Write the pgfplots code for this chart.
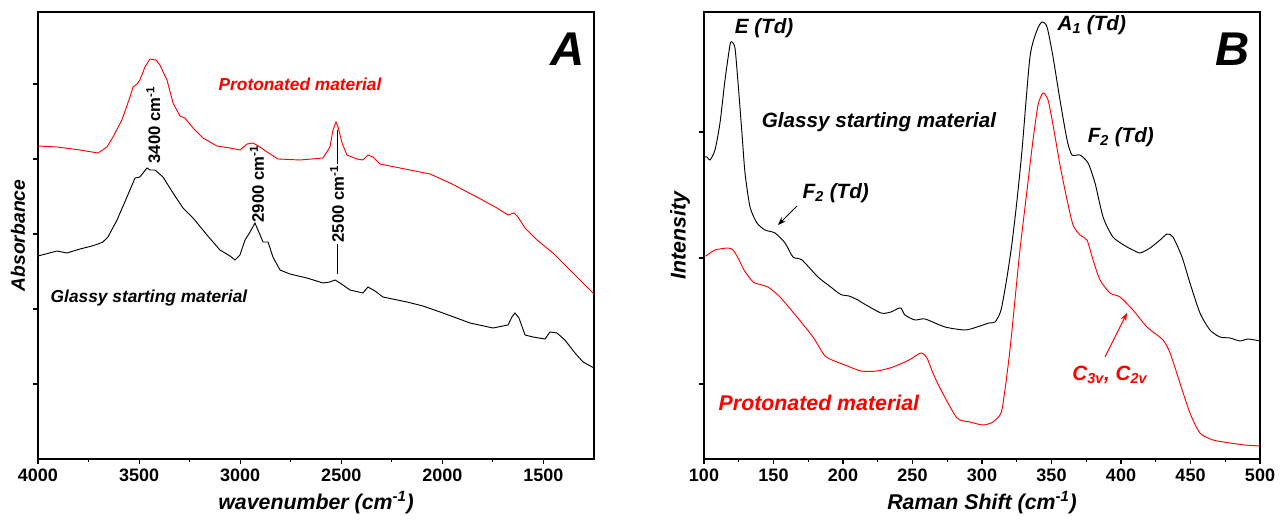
\documentclass[border=0pt]{standalone}
\usepackage{fontspec}
\setmainfont{Liberation Sans}
\usepackage{pgfplots}
\pgfplotsset{compat=1.18}
\usetikzlibrary{arrows.meta}

% spectra; y in panel units (0..447)
\pgfplotstableread{
wn y
4000 313
3906 312
3792 309
3703 306
3659 312
3629 322
3585 339
3545 362
3530 372
3510 375
3496 379
3471 392
3446 400
3416 399
3397 394
3362 379
3332 356
3298 343
3273 341
3233 331
3184 321
3115 313
3050 311
3001 309
2966 315
2937 316
2902 312
2867 307
2813 300
2704 299
2590 301
2556 312
2541 329
2526 337
2516 332
2496 316
2472 304
2422 300
2393 299
2368 304
2343 302
2308 295
2210 291
2111 287
2061 285
1962 276
1829 262
1730 251
1675 244
1646 246
1626 242
1591 231
1532 219
1453 206
1369 189
1304 176
1250 165
}\irprot

\pgfplotstableread{
wn y
4000 203
3906 208
3857 206
3792 210
3733 213
3703 215
3679 217
3654 222
3609 239
3560 262
3520 281
3496 282
3461 291
3446 289
3421 289
3382 282
3332 266
3283 251
3233 241
3164 224
3100 209
3050 203
3026 199
3001 204
2976 219
2951 227
2927 236
2912 229
2887 217
2862 217
2838 202
2803 189
2754 185
2670 181
2590 176
2556 177
2531 179
2506 176
2457 169
2393 166
2368 172
2333 168
2294 162
2175 157
2096 153
1997 146
1863 136
1750 131
1675 134
1656 142
1641 146
1621 141
1591 124
1552 122
1492 120
1468 127
1433 126
1394 119
1344 106
1304 97
1250 91
}\irglass

\pgfplotstableread{
s y
100.0 302
102.2 302
104.3 299
107.9 309
111.5 336
115.1 379
118.7 414
120.1 417
122.3 411
124.5 376
127.3 326
129.5 286
133.1 252
138.1 236
143.9 229
151.1 226
158.3 216
164.0 202
170.5 199
182.0 182
192.1 171
195.7 167
199.3 164
204.3 163
210.8 159
212.9 157
227.3 146
234.5 147
238.8 150
241.7 151
244.6 144
251.8 139
259.0 140
273.4 132
287.8 129
296.4 132
305.0 136
309.4 137
313.7 149
318.0 182
321.6 216
325.2 259
328.8 309
334.5 402
339.6 429
343.2 437
346.8 432
351.1 402
356.1 359
361.2 319
364.7 304
370.5 304
376.3 296
381.3 276
387.1 242
394.2 222
404.3 212
408.6 209
413.7 206
420.9 211
428.1 219
433.2 225
437.4 222
443.9 202
449.6 176
456.8 146
464.0 129
471.2 122
478.4 121
485.6 118
491.4 120
500.0 118
}\raglass

\pgfplotstableread{
s y
100.0 203
101.4 203
107.9 209
117.3 211
120.9 209
124.5 201
128.8 189
135.3 177
141.7 174
146.0 172
148.9 169
154.7 162
166.9 142
178.4 122
187.1 103
195.7 97
201.4 94
213.0 88
224.5 88
236.0 92
247.5 99
256.1 106
260.4 101
264.7 86
270.5 69
282.0 41
291.4 37
300.7 34
307.9 37
313.7 46
316.5 69
320.1 109
323.7 159
327.3 209
332.4 269
336.7 319
340.3 354
343.9 366
347.5 359
351.1 334
356.1 294
361.2 259
365.5 234
370.5 224
375.5 219
379.9 199
384.9 179
392.1 166
399.3 162
408.6 149
418.7 132
430.2 119
435.3 106
442.4 76
449.6 46
456.8 26
466.2 19
478.4 16
489.2 14
500.0 13
}\raprot

\pgfplotsset{
  panel/.style={
    scale only axis, width=417pt, height=335.25pt,
    ymin=0, ymax=447,
    axis line style={line width=1.1pt},
    tick align=outside, xtick pos=left, ytick pos=left,
    major tick length=3.75pt, minor tick length=2.4pt,
    every tick/.style={black, line width=0.8pt},
    minor x tick num=1,
    yticklabels={},
    tick label style={font=\fontsize{13.5}{15}\selectfont\bfseries},
    /pgf/number format/assume math mode=true,
    /pgf/number format/1000 sep={},
    label style={font=\fontsize{16}{18}\selectfont\bfseries\itshape},
  },
  spec/.style={line width=0.7pt, no marks},
}

\begin{document}
\begin{tikzpicture}[x=0.75pt,y=0.75pt]
\useasboundingbox (-38,-62) rectangle (1248,459);

% ---------- panel A: IR ----------
\begin{axis}[panel,
  at={(0pt,0pt)}, anchor=south west,
  x dir=reverse, xmin=1250, xmax=4000,
  xtick={1500,2000,2500,3000,3500,4000},
  ytick={75,150,225,300,375},
  xlabel={wavenumber (cm\textsuperscript{-1})},
  ylabel={Absorbance},
  xlabel style={at={(axis description cs:0.5,-0.098)}, anchor=center},
  ylabel style={at={(axis description cs:-0.036,0.5)}, anchor=center,
    font=\fontsize{14.5}{17}\selectfont\bfseries\itshape},
]
\addplot[spec, red] table[x=wn, y=y] {\irprot};
\addplot[spec, black] table[x=wn, y=y] {\irglass};
\draw[line width=0.6pt] (axis cs:2521,329) -- (axis cs:2521,185);
\node[rotate=90, font=\fontsize{12.5}{14}\selectfont\bfseries, inner sep=1pt]
  at (axis cs:3430,334) {3400 cm\textsuperscript{-1}};
\node[rotate=90, font=\fontsize{12.5}{14}\selectfont\bfseries, inner sep=1pt]
  at (axis cs:2917,275) {2900 cm\textsuperscript{-1}};
\node[rotate=90, font=\fontsize{12.5}{14}\selectfont\bfseries, fill=white, inner sep=1pt]
  at (axis cs:2521,255) {2500 cm\textsuperscript{-1}};
\node[red, font=\fontsize{13}{15}\selectfont\bfseries\itshape]
  at (axis cs:2704,375) {Protonated material};
\node[font=\fontsize{13}{15}\selectfont\bfseries\itshape]
  at (axis cs:3451,161) {Glassy starting material};
\node[anchor=north east, inner sep=0pt, font=\fontsize{35.5}{40}\selectfont\bfseries\itshape]
  at (rel axis cs:0.984,0.953) {A};
\end{axis}

% ---------- panel B: Raman ----------
\begin{axis}[panel,
  at={(499.5pt,0pt)}, anchor=south west,
  xmin=100, xmax=500,
  xtick={100,150,...,500},
  ytick={75,201,327},
  xlabel={Raman Shift (cm\textsuperscript{-1})},
  ylabel={Intensity},
  xlabel style={at={(axis description cs:0.5,-0.098)}, anchor=center},
  ylabel style={at={(axis description cs:-0.043,0.5)}, anchor=center},
]
\addplot[spec, black, smooth, tension=0.4] table[x=s, y=y] {\raglass};
\addplot[spec, red, smooth, tension=0.4] table[x=s, y=y] {\raprot};
\node[font=\fontsize{15.5}{17}\selectfont\bfseries\itshape]
  at (axis cs:143.2,431) {E (Td)};
\node[anchor=west, font=\fontsize{15.5}{17}\selectfont\bfseries\itshape]
  at (axis cs:351,434) {A\textsubscript{1} (Td)};
\node[anchor=west, font=\fontsize{15.5}{17}\selectfont\bfseries\itshape]
  at (axis cs:372.7,322) {F\textsubscript{2} (Td)};
\node[font=\fontsize{15.5}{17}\selectfont\bfseries\itshape]
  at (axis cs:225.9,337) {Glassy starting material};
\node[anchor=west, font=\fontsize{15.5}{17}\selectfont\bfseries\itshape]
  at (axis cs:167.6,266) {F\textsubscript{2} (Td)};
\draw[-{Stealth[length=6pt,width=4.5pt]}, line width=0.7pt]
  (axis cs:166.9,253) -- (axis cs:153.2,234);
\node[anchor=west, red, font=\fontsize{16}{18}\selectfont\bfseries\itshape]
  at (axis cs:107.2,56) {Protonated material};
\node[red, font=\fontsize{15.5}{17}\selectfont\bfseries\itshape]
  at (axis cs:392,84) {C\textsubscript{3v}, C\textsubscript{2v}};
\draw[red, -{Stealth[length=6pt,width=4.5pt]}, line width=0.7pt]
  (axis cs:388.5,102) -- (axis cs:404.3,146);
\node[anchor=north east, inner sep=0pt, font=\fontsize{35.5}{40}\selectfont\bfseries\itshape]
  at (rel axis cs:0.982,0.953) {B};
\end{axis}
\end{tikzpicture}
\end{document}
